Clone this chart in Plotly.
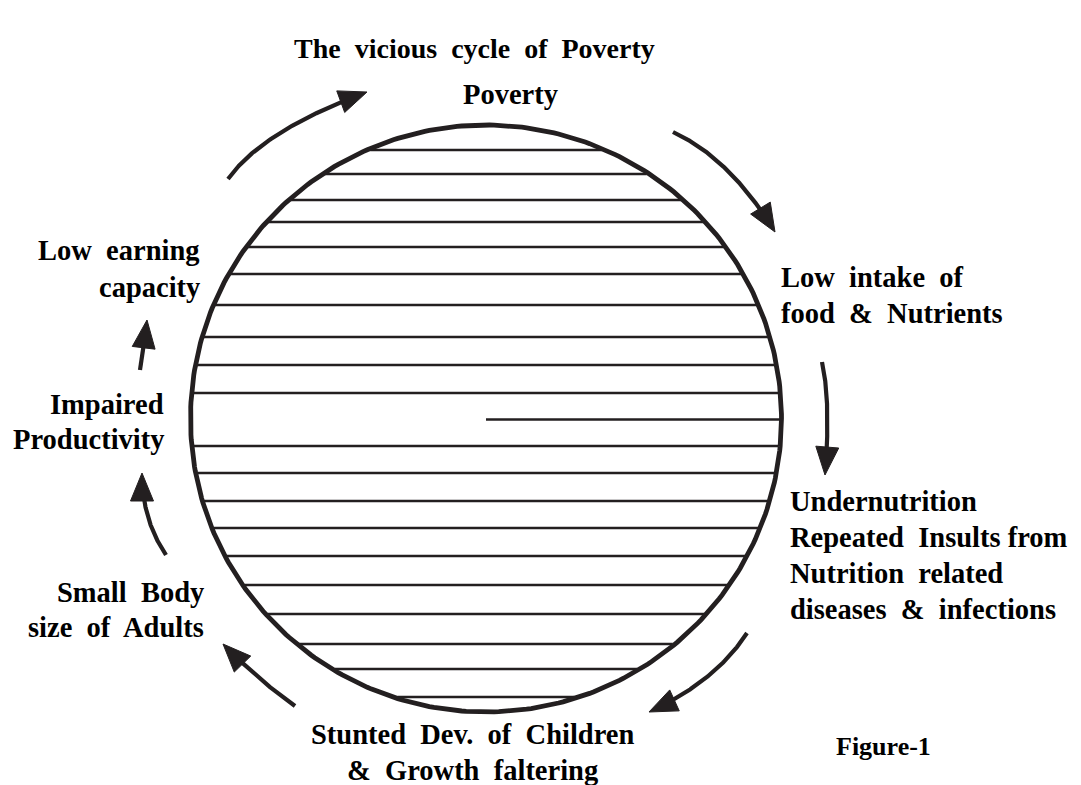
import numpy as np
import plotly.graph_objects as go

INK = "#231f20"
FONT = "Liberation Serif"
NB = "\u00a0"

# ---- data -------------------------------------------------------------
title_text = "The" + NB + " vicious" + NB + " cycle" + NB + " of" + NB + " Poverty"

# circle (center x, center y, radius x, radius y)
circle_cx, circle_cy = 486.0, 418.5
circle_rx, circle_ry = 295.5, 293.5

# horizontal hatch lines inside circle (y positions)
hatch_y = [150, 174, 200, 222, 247, 274, 305, 337, 365, 393,
           446, 473, 501, 528, 556, 585, 614, 644, 669, 697]
half_line_y = 419.5
half_line_x_start = 486

# curved arrows: tail, control, tip
arrow_tail = [(228, 179), (673, 132), (822, 362), (747, 633), (295, 706), (166, 555), (140, 370)]
arrow_ctrl = [(262.5, 130.5), (730, 158), (831, 401.5), (716, 681.5), (258, 680), (142, 520), (144, 345)]
arrow_tip = [(367, 92), (775, 232), (825, 475), (649, 712), (223, 644), (142, 473), (147, 320)]

# labels: text, x, y, anchor
label_text = ["Poverty",
              "Low" + NB + " intake" + NB + " of", "food" + NB + " &" + NB + " Nutrients",
              "Undernutrition", "Repeated" + NB + " Insults from",
              "Nutrition" + NB + " related", "diseases" + NB + " &" + NB + " infections",
              "Stunted" + NB + " Dev." + NB + " of" + NB + " Children",
              "&" + NB + " Growth" + NB + " faltering",
              "Small" + NB + " Body", "size" + NB + " of" + NB + " Adults",
              "Impaired", "Productivity",
              "Low" + NB + " earning", "capacity"]
label_x = [510, 779, 779, 788, 788, 788, 788, 472, 472, 206, 206, 166, 166, 202, 202]
label_y = [94, 277, 313, 501, 537, 573, 609, 734, 770, 592, 627, 404, 439, 250, 287]
label_anchor = ["center", "left", "left", "left", "left", "left", "left", "center", "center",
                "right", "right", "right", "right", "right", "right"]

figure_note = "Figure-1"
figure_note_xy = (834, 746)

# ---- figure -----------------------------------------------------------
W, H = 1081, 785
PAGE_OFF = 8  # default page margin of the html body
fig = go.Figure()

# hatch lines clipped to circle
r_in_x = circle_rx - 1.5
r_in_y = circle_ry - 1.5
for y in hatch_y:
    dy = (y - circle_cy) / r_in_y
    dx = r_in_x * np.sqrt(max(0.0, 1 - dy * dy))
    fig.add_trace(go.Scatter(x=[circle_cx - dx, circle_cx + dx], y=[y, y], mode="lines",
                             line=dict(color=INK, width=2.4), hoverinfo="skip", showlegend=False))
dy = (half_line_y - circle_cy) / r_in_y
dx = r_in_x * np.sqrt(max(0.0, 1 - dy * dy))
fig.add_trace(go.Scatter(x=[half_line_x_start, circle_cx + dx], y=[half_line_y, half_line_y],
                         mode="lines", line=dict(color=INK, width=2.4),
                         hoverinfo="skip", showlegend=False))

# circle outline
t = np.linspace(0, 2 * np.pi, 400)
fig.add_trace(go.Scatter(x=circle_cx + circle_rx * np.cos(t), y=circle_cy + circle_ry * np.sin(t),
                         mode="lines", line=dict(color=INK, width=4.8),
                         hoverinfo="skip", showlegend=False))

# arrows
HEAD_LEN, HEAD_HW = 28.0, 11.5
for (p0, c, p2) in zip(arrow_tail, arrow_ctrl, arrow_tip):
    p0 = np.array(p0, float); c = np.array(c, float); p2 = np.array(p2, float)
    tt = np.linspace(0, 1, 200)
    pts = ((1 - tt)[:, None] ** 2) * p0 + (2 * (1 - tt) * tt)[:, None] * c + (tt[:, None] ** 2) * p2
    d = p2 - c
    d = d / np.linalg.norm(d)
    n = np.array([-d[1], d[0]])
    base = p2 - HEAD_LEN * d
    dist = np.linalg.norm(pts - p2, axis=1)
    keep = dist > HEAD_LEN * 0.7
    fig.add_trace(go.Scatter(x=pts[keep, 0], y=pts[keep, 1], mode="lines",
                             line=dict(color=INK, width=4.2), hoverinfo="skip", showlegend=False))
    tri = np.array([p2, base + HEAD_HW * n, base - HEAD_HW * n, p2])
    fig.add_trace(go.Scatter(x=tri[:, 0], y=tri[:, 1], mode="lines", fill="toself",
                             fillcolor=INK, line=dict(color=INK, width=1),
                             hoverinfo="skip", showlegend=False))

# labels
for txt, x, y, a in zip(label_text, label_x, label_y, label_anchor):
    fig.add_annotation(x=x, y=y, text="<b>" + txt + "</b>", showarrow=False,
                       xanchor=a, yanchor="middle", align=a,
                       font=dict(family=FONT, size=28.5, color="#000000"))

fig.add_annotation(x=figure_note_xy[0], y=figure_note_xy[1], text="<b>" + figure_note + "</b>",
                   showarrow=False, xanchor="left", yanchor="middle",
                   font=dict(family=FONT, size=26, color="#000000"))

fig.add_annotation(x=474, y=48, text="<b>" + title_text + "</b>", showarrow=False,
                   xanchor="center", yanchor="middle",
                   font=dict(family=FONT, size=28, color="#000000"))

fig.update_layout(width=W, height=H, margin=dict(l=0, r=0, t=0, b=0),
                  paper_bgcolor="white", plot_bgcolor="white",
                  xaxis=dict(range=[PAGE_OFF, W + PAGE_OFF], visible=False, fixedrange=True),
                  yaxis=dict(range=[H + PAGE_OFF, PAGE_OFF], visible=False, fixedrange=True),
                  showlegend=False)

fig.write_html("out.html")
